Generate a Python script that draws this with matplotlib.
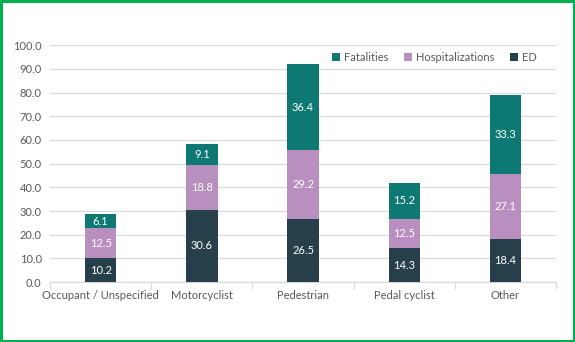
import matplotlib
matplotlib.use("Agg")
import matplotlib.pyplot as plt
from matplotlib.patches import Rectangle
import numpy as np

categories = ["Occupant / Unspecified", "Motorcyclist", "Pedestrian", "Pedal cyclist", "Other"]
ed = [10.2, 30.6, 26.5, 14.3, 18.4]
hosp = [12.5, 18.8, 29.2, 12.5, 27.1]
fat = [6.1, 9.1, 36.4, 15.2, 33.3]
yticks = [0, 10, 20, 30, 40, 50, 60, 70, 80, 90, 100]

c_ed = "#273f4b"
c_hosp = "#b98fc0"
c_fat = "#0e7872"
txt = "#595959"

plt.rcParams['font.family'] = ['Lato', 'DejaVu Sans']

fig = plt.figure(figsize=(5.75, 3.42), dpi=100)
ax = fig.add_axes([0.087, 0.175, 0.880, 0.693])

x = np.arange(len(categories))
w = 0.31
ed_a = np.array(ed); hosp_a = np.array(hosp); fat_a = np.array(fat)
b1 = ax.bar(x, ed_a, w, color=c_ed, label="ED", zorder=3)
b2 = ax.bar(x, hosp_a, w, bottom=ed_a, color=c_hosp, label="Hospitalizations", zorder=3)
b3 = ax.bar(x, fat_a, w, bottom=ed_a + hosp_a, color=c_fat, label="Fatalities", zorder=3)

for bars, vals, bots in [(b1, ed_a, np.zeros(5)), (b2, hosp_a, ed_a), (b3, fat_a, ed_a + hosp_a)]:
    for xi, v, b in zip(x, vals, bots):
        ax.text(xi, b + v / 2, f"{v:.1f}", ha="center", va="center", color="white", fontsize=8, zorder=4)

ax.set_xlim(-0.5, len(categories) - 0.5)
ax.set_ylim(0, 100)
ax.set_yticks(yticks)
ax.set_yticklabels([f"{v:.1f}" for v in yticks], color=txt, fontsize=8)
ax.yaxis.grid(True, color="#d9d9d9", linewidth=0.9, zorder=0)
ax.tick_params(axis="y", length=0, pad=6)

ax.set_xticks(x)
ax.set_xticklabels(categories, color=txt, fontsize=8)
ax.tick_params(axis="x", length=0, pad=6)
ax.set_xticks(np.arange(-0.5, len(categories)), minor=True)
ax.tick_params(axis="x", which="minor", length=5, color="#d9d9d9", width=0.9)

for s in ["top", "right", "left"]:
    ax.spines[s].set_visible(False)
ax.spines["bottom"].set_color("#d9d9d9")
ax.spines["bottom"].set_linewidth(0.9)

handles = [b3, b2, b1]
leg = ax.legend(handles, ["Fatalities", "Hospitalizations", "ED"], ncol=3, loc="center right",
                bbox_to_anchor=(0.98, 0.948), frameon=False, fontsize=8, handlelength=0.7,
                handleheight=0.7, handletextpad=0.4, columnspacing=1.4, borderpad=0.3,
                labelcolor=txt)
leg.set_zorder(5)

fig.patches.append(Rectangle((0.002, 0.003), 0.996, 0.994, transform=fig.transFigure,
                             fill=False, edgecolor="#00b050", linewidth=2.2))

fig.savefig("out.png", dpi=100)
